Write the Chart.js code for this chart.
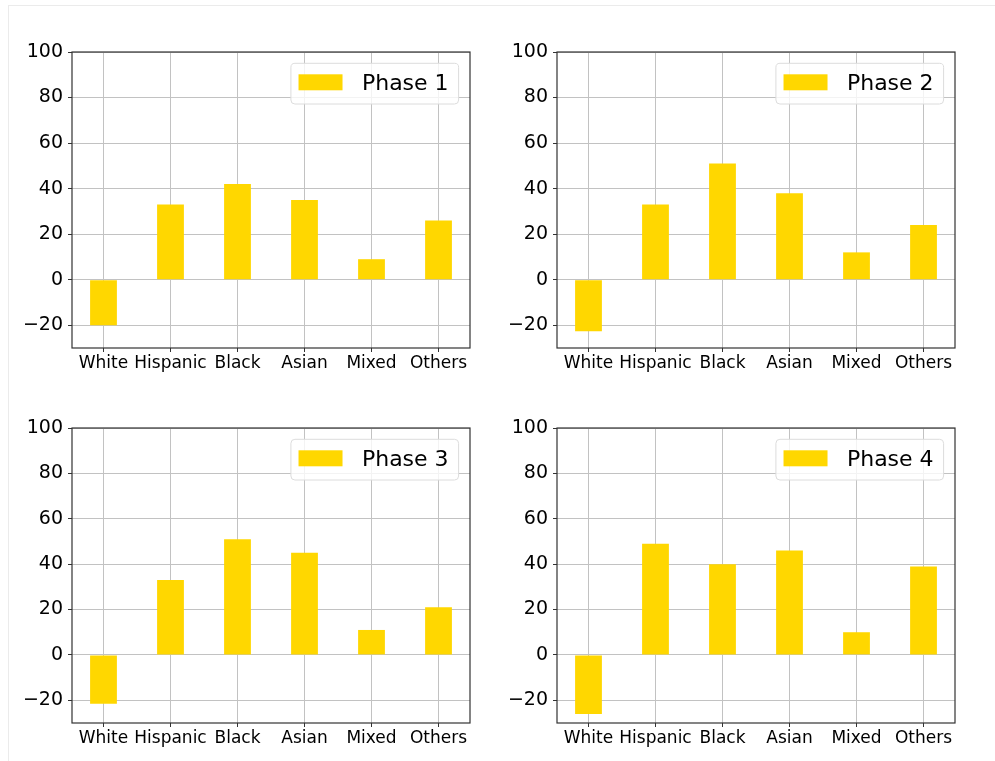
<!DOCTYPE html>
<html>
<head>
<meta charset="utf-8">
<title>Phase comparison by group</title>
<script src="https://cdn.jsdelivr.net/npm/chart.js@4.4.0/dist/chart.umd.min.js"></script>
<style>
  html, body { margin: 0; padding: 0; background: #fff; }
  body { width: 995px; height: 761px; position: relative; overflow: hidden; }
  .frame {
    position: absolute; left: 8px; top: 5px; right: 0; bottom: 0;
    border-top: 1px solid #ebebeb; border-left: 1px solid #ebebeb;
  }
  canvas { position: absolute; }
</style>
</head>
<body>
<div class="frame"></div>
<canvas id="ph1"></canvas>
<canvas id="ph2"></canvas>
<canvas id="ph3"></canvas>
<canvas id="ph4"></canvas>
<script>
  // ---- data ----
  const groups = ['White', 'Hispanic', 'Black', 'Asian', 'Mixed', 'Others'];
  const phase1 = [-20, 33, 42, 35, 9, 26];
  const phase2 = [-22.6, 33, 51, 38, 12, 24];
  const phase3 = [-21.5, 33, 51, 45, 11, 21];
  const phase4 = [-26, 49, 40, 46, 10, 39];
  const phaseNames = ['Phase 1', 'Phase 2', 'Phase 3', 'Phase 4'];
  const yTicks = [-20, 0, 20, 40, 60, 80, 100];
  const yMin = -30, yMax = 100;

  const barColor = '#FFD700';
  const gridColor = '#c2c2c2';
  const spineColor = '#333333';
  const family = "'DejaVu Sans', sans-serif";

  // panel canvases and the plot area inside each (page pixels)
  const panels = [
    { id: 'ph1', values: phase1, x: 0,   y: 0,   w: 495, h: 380, area: { l: 72,  t: 52,  r: 470, b: 348 } },
    { id: 'ph2', values: phase2, x: 495, y: 0,   w: 500, h: 380, area: { l: 557, t: 52,  r: 955, b: 348 } },
    { id: 'ph3', values: phase3, x: 0,   y: 380, w: 495, h: 381, area: { l: 72,  t: 428, r: 470, b: 723 } },
    { id: 'ph4', values: phase4, x: 495, y: 380, w: 500, h: 381, area: { l: 557, t: 428, r: 955, b: 723 } },
  ];
  const Y_AXIS_W = 60;
  const X_AXIS_H = 30;

  // axes frame + legend box in the upper right corner
  const axesBox = {
    id: 'axesBox',
    afterDraw(chart) {
      const { ctx, chartArea: a } = chart;
      const ds = chart.data.datasets[0];
      ctx.save();
      ctx.strokeStyle = spineColor;
      ctx.lineWidth = 1.2;
      ctx.strokeRect(a.left, a.top, a.right - a.left, a.bottom - a.top);

      ctx.font = '22px ' + family;
      const tw = ctx.measureText(ds.label).width;
      const bw = 7.6 + 44 + 19.4 + tw + 10, bh = 40.7;
      const bx = a.right - 11.4 - bw, by = a.top + 11.3;
      ctx.beginPath();
      ctx.roundRect(bx, by, bw, bh, 4);
      ctx.fillStyle = 'rgba(255,255,255,0.8)';
      ctx.fill();
      ctx.strokeStyle = '#dcdcdc';
      ctx.lineWidth = 1;
      ctx.stroke();
      ctx.fillStyle = ds.backgroundColor;
      ctx.fillRect(bx + 7.6, by + 11, 44, 16);
      ctx.fillStyle = '#000';
      ctx.textBaseline = 'alphabetic';
      ctx.textAlign = 'left';
      ctx.fillText(ds.label, bx + 71, by + 26.7);
      ctx.restore();
    },
  };

  const fmtY = v => (v < 0 ? '\u2212' + Math.abs(v) : String(v));

  panels.forEach((p, k) => {
    const cv = document.getElementById(p.id);
    cv.width = p.w;
    cv.height = p.h;
    cv.style.left = p.x + 'px';
    cv.style.top = p.y + 'px';

    new Chart(cv, {
      type: 'bar',
      data: {
        datasets: [{
          label: phaseNames[k],
          data: p.values.map((v, i) => ({ x: i, y: v })),
          backgroundColor: barColor,
          borderWidth: 0,
          categoryPercentage: 1,
          barPercentage: 0.4,
        }],
      },
      plugins: [axesBox],
      options: {
        responsive: false,
        animation: false,
        events: [],
        layout: {
          padding: {
            left: p.area.l - p.x - Y_AXIS_W,
            top: p.area.t - p.y,
            right: p.x + p.w - p.area.r,
            bottom: p.y + p.h - p.area.b - X_AXIS_H,
          },
        },
        plugins: { legend: { display: false }, tooltip: { enabled: false } },
        scales: {
          x: {
            type: 'linear', min: -0.47, max: 5.47, offset: false, z: 1,
            border: { display: false },
            grid: { offset: false, color: gridColor, lineWidth: 1, tickColor: spineColor, tickLength: 4 },
            ticks: {
              autoSkip: false, maxRotation: 0, padding: 1.5, color: '#000',
              font: { family, size: 17 },
              callback: v => groups[v],
            },
            afterBuildTicks: s => { s.ticks = groups.map((g, i) => ({ value: i })); },
            afterFit: s => { s.height = X_AXIS_H; },
          },
          y: {
            min: yMin, max: yMax, z: 1,
            border: { display: false },
            grid: { color: gridColor, lineWidth: 1, tickColor: spineColor, tickLength: 4 },
            ticks: { padding: 5, color: '#000', font: { family, size: 19 }, callback: fmtY },
            afterBuildTicks: s => { s.ticks = yTicks.map(v => ({ value: v })); },
            afterFit: s => { s.width = Y_AXIS_W; },
          },
        },
      },
    });
  });
</script>
</body>
</html>
